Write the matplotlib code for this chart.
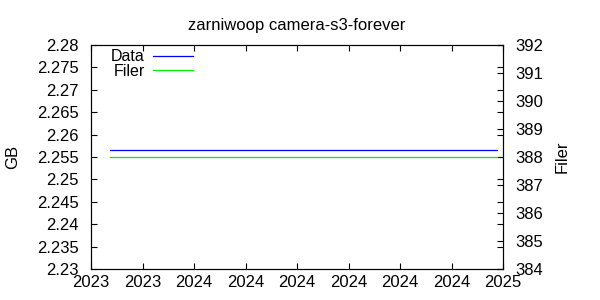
import matplotlib
matplotlib.use("Agg")
import matplotlib.pyplot as plt
import matplotlib.dates as mdates
import numpy as np
from datetime import datetime, timedelta

plt.rcParams['font.family'] = ['Liberation Sans', 'DejaVu Sans']

# data (constant over the period)
dates = [datetime(2023, 11, 23), datetime(2025, 2, 16)]
data_gb = [2.2565, 2.2565]
filer = [388, 388]

# x tick positions, every 60 days
tick_start = datetime(2023, 11, 1)
xticks = [tick_start + timedelta(days=60 * i) for i in range(9)]
gb_ticks = np.arange(2.23, 2.2801, 0.005)
filer_ticks = np.arange(384, 393, 1)

fig = plt.figure(figsize=(6, 3), dpi=100)
ax = fig.add_axes([91 / 600, 1 - 269 / 300, 412 / 600, 224 / 300])
ax2 = ax.twinx()

l1, = ax.plot(dates, data_gb, color='#0000ff', lw=0.9, label='Data')
l2, = ax2.plot(dates, filer, color='#00ee00', lw=0.9, label='Filer')

ax.set_xlim(xticks[0], xticks[-1])
ax.set_xticks(xticks)
ax.xaxis.set_major_formatter(mdates.DateFormatter('%Y'))
ax.set_ylim(2.23, 2.28)
ax.set_yticks(gb_ticks)
ax.set_yticklabels(['%g' % round(v, 3) for v in gb_ticks])
ax2.set_ylim(384, 392)
ax2.set_yticks(filer_ticks)

for a in (ax, ax2):
    a.tick_params(direction='in', length=4, width=0.8, labelsize=12)
    for s in a.spines.values():
        s.set_linewidth(0.8)
ax.tick_params(axis='x', top=True, pad=4)
ax.tick_params(axis='y', right=True, pad=9)
ax2.tick_params(axis='y', pad=9)

ax.set_ylabel('GB', fontsize=12, labelpad=12)
ax2.set_ylabel('Filer', fontsize=12, labelpad=8)
ax.set_title('zarniwoop camera-s3-forever', fontsize=12, pad=11)

ax.legend(handles=[l1, l2], loc='upper left', bbox_to_anchor=(0.022, 1.03),
          frameon=False, markerfirst=False, fontsize=11.5,
          handlelength=2.5, handletextpad=0.5, labelspacing=-0.05,
          borderaxespad=0.3)

fig.savefig('out.png', dpi=100)
